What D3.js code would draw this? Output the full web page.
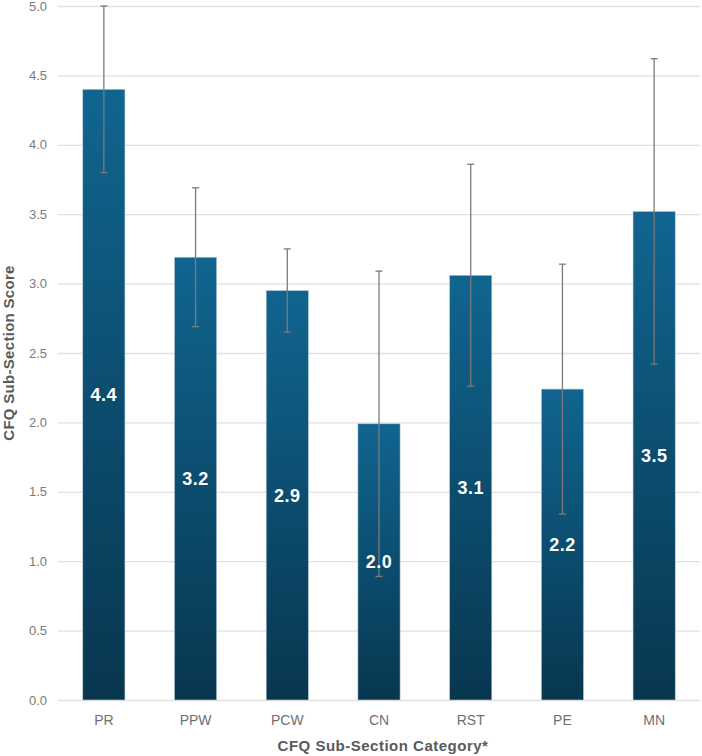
<!DOCTYPE html>
<html>
<head>
<meta charset="utf-8">
<script src="https://cdn.jsdelivr.net/npm/d3@7"></script>
<style>
  body { margin: 0; background: #fff; }
  text { font-family: "Liberation Sans", Arial, sans-serif; }
</style>
</head>
<body>
<div id="chart"></div>
<script>
// data
const categories = ["PR", "PPW", "PCW", "CN", "RST", "PE", "MN"];
const scores = [4.40, 3.19, 2.95, 1.99, 3.06, 2.24, 3.52];
const errLow = [3.80, 2.69, 2.65, 0.89, 2.26, 1.34, 2.42];
const errHigh = [5.00, 3.69, 3.25, 3.09, 3.86, 3.14, 4.62];
const labels = ["4.4", "3.2", "2.9", "2.0", "3.1", "2.2", "3.5"];
const yTicks = [0, 0.5, 1, 1.5, 2, 2.5, 3, 3.5, 4, 4.5, 5];

const W = 702, H = 756;
const margin = { top: 6, right: 2, bottom: 56, left: 58 };

const svg = d3.select("#chart")
    .append("svg")
    .attr("width", W)
    .attr("height", H);

const x = d3.scaleBand()
    .domain(categories)
    .range([margin.left, W - margin.right])
    .paddingInner(0.54)
    .paddingOuter(0.27);

const y = d3.scaleLinear()
    .domain([0, 5])
    .range([H - margin.bottom, margin.top]);

// gradient for bars
const defs = svg.append("defs");
const grad = defs.append("linearGradient")
    .attr("id", "barGrad")
    .attr("x1", 0).attr("y1", 0).attr("x2", 0).attr("y2", 1);
grad.append("stop").attr("offset", "0%").attr("stop-color", "#106590");
grad.append("stop").attr("offset", "100%").attr("stop-color", "#08364f");

// gridlines + y tick labels
const yAxis = svg.append("g")
    .attr("transform", `translate(${margin.left},0)`)
    .call(d3.axisLeft(y)
        .tickValues(yTicks)
        .tickSize(-(W - margin.left - margin.right))
        .tickPadding(11)
        .tickFormat(d3.format(".1f")));
yAxis.select(".domain").remove();
yAxis.selectAll(".tick line")
    .attr("stroke", "#e1e1e1")
    .attr("stroke-width", 1.3);
yAxis.selectAll(".tick text")
    .attr("fill", "#7b7b7b")
    .attr("font-size", 13);

// bars
svg.append("g")
    .selectAll("rect")
    .data(scores)
    .join("rect")
    .attr("x", (d, i) => x(categories[i]))
    .attr("y", d => y(d))
    .attr("width", x.bandwidth())
    .attr("height", d => y(0) - y(d))
    .attr("fill", "url(#barGrad)")
    .attr("stroke", "#b7cdd9")
    .attr("stroke-width", 0.6);

// error bars
const err = svg.append("g")
    .attr("stroke", "#7a7a7a")
    .attr("stroke-width", 1.3);
categories.forEach((c, i) => {
    const cx = x(c) + x.bandwidth() / 2;
    err.append("line")
        .attr("x1", cx).attr("x2", cx)
        .attr("y1", y(errLow[i])).attr("y2", y(errHigh[i]));
    [errLow[i], errHigh[i]].forEach(v => {
        err.append("line")
            .attr("x1", cx - 3.5).attr("x2", cx + 3.5)
            .attr("y1", y(v)).attr("y2", y(v));
    });
});

// value labels inside bars
svg.append("g")
    .selectAll("text")
    .data(scores)
    .join("text")
    .attr("x", (d, i) => x(categories[i]) + x.bandwidth() / 2)
    .attr("y", d => y(d / 2))
    .attr("dy", "0.36em")
    .attr("text-anchor", "middle")
    .attr("fill", "#ffffff")
    .attr("font-weight", "bold")
    .attr("font-size", 18)
    .attr("letter-spacing", 0.5)
    .text((d, i) => labels[i]);

// x category labels
const xAxis = svg.append("g")
    .attr("transform", `translate(0,${H - margin.bottom})`)
    .call(d3.axisBottom(x).tickSize(0).tickPadding(15));
xAxis.select(".domain").remove();
xAxis.selectAll(".tick text")
    .attr("fill", "#6f6f6f")
    .attr("font-size", 14);

// axis titles
svg.append("text")
    .attr("x", 383)
    .attr("y", 751)
    .attr("text-anchor", "middle")
    .attr("fill", "#5a5a5a")
    .attr("font-weight", "bold")
    .attr("font-size", 15)
    .attr("letter-spacing", 0.5)
    .text("CFQ Sub-Section Category*");

svg.append("text")
    .attr("transform", `translate(14,${(margin.top + H - margin.bottom) / 2}) rotate(-90)`)
    .attr("text-anchor", "middle")
    .attr("fill", "#5a5a5a")
    .attr("font-weight", "bold")
    .attr("font-size", 15)
    .attr("letter-spacing", 0.3)
    .text("CFQ Sub-Section Score");
</script>
</body>
</html>
